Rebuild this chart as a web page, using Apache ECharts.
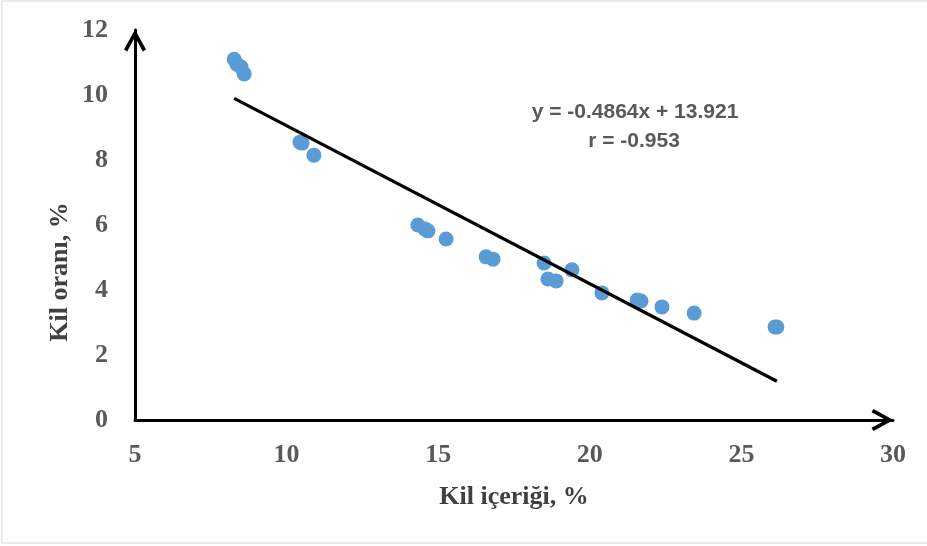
<!DOCTYPE html>
<html>
<head>
<meta charset="utf-8">
<script src="https://cdn.jsdelivr.net/npm/echarts@6/dist/echarts.min.js"></script>
<style>
  html, body { margin: 0; padding: 0; background: #fff; }
  #chart { width: 927px; height: 546px; }
</style>
</head>
<body>
<div id="chart"></div>
<script>
// clay content (x) and clay ratio (y)
const clayContent = [8.27, 8.36, 8.5, 8.6, 10.44, 10.51, 10.9, 14.33, 14.56, 14.66, 15.26, 16.58, 16.81, 18.49, 18.62, 18.89, 19.41, 20.4, 21.56, 21.69, 22.38, 23.44, 26.11, 26.17];
const clayRatio = [11.1, 10.95, 10.86, 10.65, 8.55, 8.52, 8.15, 6.0, 5.88, 5.82, 5.57, 5.02, 4.95, 4.83, 4.34, 4.28, 4.62, 3.91, 3.69, 3.66, 3.48, 3.29, 2.86, 2.86];

const xTicks = [5, 10, 15, 20, 25, 30];
const yTicks = [0, 2, 4, 6, 8, 10, 12];

// trendline from the printed equation
const slope = -0.4864;
const intercept = 13.921;
const rValue = -0.953;

const xMin = Math.min(...clayContent);
const xMax = Math.max(...clayContent);
const trend = [xMin, xMax].map(x => [x, slope * x + intercept]);

const points = clayContent.map((x, i) => [x, clayRatio[i]]);

// open chevron arrow head, tip pointing up like the built-in 'arrow'
const arrow = 'path://M0,20 L11,0 L22,20 L18.8,22 L11,7.5 L3.2,22 Z';
const tickFont = {
  color: '#595959',
  fontFamily: 'Liberation Serif',
  fontWeight: 'bold',
  fontSize: 26
};

function axisLine() {
  return {
    onZero: false,
    symbol: ['none', arrow],
    symbolSize: [22, 22],
    symbolOffset: [0, -10.5],
    lineStyle: { color: '#000', width: 3 }
  };
}

const chart = echarts.init(document.getElementById('chart'));
chart.setOption({
  backgroundColor: '#fff',
  animation: false,
  grid: { left: 135, right: 34, top: 30, bottom: 126 },
  xAxis: {
    type: 'value',
    min: xTicks[0],
    max: xTicks[xTicks.length - 1],
    interval: 5,
    splitLine: { show: false },
    axisTick: { show: false },
    axisLine: axisLine(),
    axisLabel: Object.assign({ margin: 22 }, tickFont),
    name: 'Kil içeriği, %',
    nameLocation: 'middle',
    nameGap: 64,
    nameTextStyle: {
      color: '#404040',
      fontFamily: 'Liberation Serif',
      fontWeight: 'bold',
      fontSize: 26
    }
  },
  yAxis: {
    type: 'value',
    min: yTicks[0],
    max: yTicks[yTicks.length - 1],
    interval: 2,
    splitLine: { show: false },
    axisTick: { show: false },
    axisLine: axisLine(),
    axisLabel: Object.assign({ margin: 27 }, tickFont)
  },
  graphic: [
    {
      type: 'rect',
      silent: true,
      shape: { x: 2, y: 1, width: 940, height: 542 },
      style: { fill: 'none', stroke: '#d6d6d6', lineWidth: 1 }
    },
    {
      type: 'text',
      x: 60,
      y: 272,
      rotation: Math.PI / 2,
      style: {
        text: 'Kil oranı, %',
        fill: '#404040',
        font: 'bold 26px "Liberation Serif"',
        textAlign: 'center',
        textVerticalAlign: 'middle'
      }
    },
    {
      type: 'text',
      x: 635,
      y: 112,
      style: {
        text: 'y = -0.4864x + 13.921',
        fill: '#595959',
        font: 'bold 21px "Liberation Sans"',
        textAlign: 'center',
        textVerticalAlign: 'middle'
      }
    },
    {
      type: 'text',
      x: 634,
      y: 141,
      style: {
        text: 'r = ' + rValue,
        fill: '#595959',
        font: 'bold 21px "Liberation Sans"',
        textAlign: 'center',
        textVerticalAlign: 'middle'
      }
    }
  ],
  series: [
    {
      type: 'line',
      data: trend,
      symbol: 'none',
      lineStyle: { color: '#000', width: 3.2 },
      z: 3
    },
    {
      type: 'scatter',
      data: points,
      symbolSize: 15,
      itemStyle: { color: '#5b9bd5', opacity: 1 },
      z: 2
    }
  ]
});
</script>
</body>
</html>
